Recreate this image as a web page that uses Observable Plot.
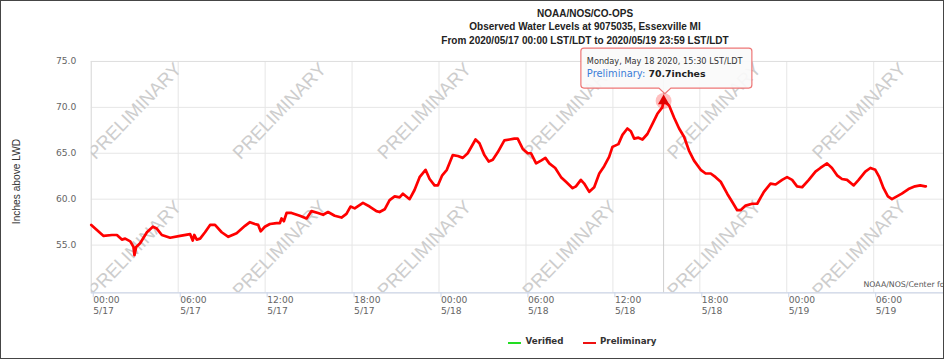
<!DOCTYPE html>
<html>
<head>
<meta charset="utf-8">
<script src="https://cdn.jsdelivr.net/npm/d3@7"></script>
<script src="https://cdn.jsdelivr.net/npm/@observablehq/plot@0.6"></script>
<style>
  html, body { margin: 0; padding: 0; background: #fff; }
  body { width: 946px; height: 361px; overflow: hidden; position: relative; font-family: "Liberation Sans", Arial, sans-serif; }
  #frame { position: absolute; left: 0; top: 0; width: 944px; height: 359px; box-sizing: border-box; border: 1.5px solid #454545; overflow: hidden; background: #fff; }
  #title { position: absolute; top: 6px; left: 384px; width: 400px; text-align: center; font-weight: bold; font-size: 10px; line-height: 13.3px; color: #222; }
  #chart { position: absolute; left: -1.5px; top: 46.5px; }
  #credit { position: absolute; left: 862.5px; top: 278.5px; font-family: "DejaVu Sans", sans-serif; font-size: 7.8px; color: #555; white-space: nowrap; }
  #legend { position: absolute; top: 334px; left: 0; width: 946px; height: 16px; font-family: "DejaVu Sans", sans-serif; font-weight: bold; font-size: 8.7px; color: #333; }
  .sw { position: absolute; top: 6.5px; width: 13px; height: 2px; }
  .lt { position: absolute; top: 1px; white-space: nowrap; }
  #overlay { position: absolute; left: -1.5px; top: -1.5px; pointer-events: none; }
</style>
</head>
<body>
<div id="frame">
  <div id="title">NOAA/NOS/CO-OPS<br>Observed Water Levels at 9075035, Essexville MI<br>From 2020/05/17 00:00 LST/LDT to 2020/05/19 23:59 LST/LDT</div>
  <div id="chart"></div>
  <div id="credit">NOAA/NOS/Center for Operational Oceanographic Products and Services</div>
  <div id="legend">
    <div class="sw" style="left:506.5px;background:#22dd22"></div><div class="lt" style="left:524.5px">Verified</div>
    <div class="sw" style="left:581.5px;background:#ee1111"></div><div class="lt" style="left:599px">Preliminary</div>
  </div>
  <svg id="overlay" width="946" height="361"></svg>
</div>
<script>
// Hours after 2020-05-17 00:00 LST/LDT
const hours = [
  0, 0.85, 1.43, 1.77, 2.11, 2.34, 2.69, 2.91, 2.98, 3.10, 3.37, 3.84, 4.25, 4.52, 4.87, 5.44,
  6.13, 6.82, 7.00, 7.11, 7.28, 7.51, 7.85, 8.20, 8.54, 9.00, 9.46, 10.03, 10.61, 10.95, 11.29, 11.52,
  11.69, 11.98, 12.33, 12.79, 13.02, 13.13, 13.29, 13.48, 13.82, 14.39, 14.86, 15.20, 15.65, 16.00,
  16.34, 16.80, 17.27, 17.61, 17.89, 18.18, 18.75, 19.21, 19.68, 19.90, 20.25, 20.59, 20.94, 21.28,
  21.51, 21.74, 21.97, 22.31, 22.66, 23.07, 23.35, 23.69, 23.92, 24.22, 24.54, 24.95, 25.30, 25.64,
  25.98, 26.52, 26.79, 27.13, 27.43, 27.71, 28.05, 28.51, 28.86, 29.20, 29.43, 29.77, 30.12, 30.35,
  30.70, 31.04, 31.34, 31.61, 32.02, 32.42, 32.76, 33.22, 33.45, 33.79, 34.02, 34.37, 34.71, 35.06,
  35.40, 35.74, 35.97, 36.38, 36.66, 37.00, 37.24, 37.47, 37.76, 38.04, 38.38, 38.73, 39.07, 39.41,
  39.50, 39.88, 40.22, 40.57, 40.91, 41.25, 41.60, 42.06, 42.40, 42.75, 43.09, 43.44, 43.89, 44.24,
  44.58, 44.81, 45.16, 45.61, 45.96, 46.42, 46.88, 47.23, 47.68, 48.02, 48.37, 48.71, 49.06, 49.52,
  49.98, 50.32, 50.78, 51.12, 51.47, 51.81, 52.16, 52.62, 52.96, 53.42, 53.77, 54.11, 54.39, 54.68,
  54.98, 55.26, 55.60, 55.94, 56.40, 56.85, 57.21, 57.55, 57.60
];
// Water level, inches above LWD (Preliminary)
const levels = [
  57.2, 56.0, 56.1, 56.1, 55.6, 55.7, 55.4, 54.8, 53.9, 54.8, 55.2, 56.4, 57.0, 56.8, 56.1, 55.8,
  56.0, 56.2, 55.5, 56.1, 55.6, 55.7, 56.4, 57.2, 57.2, 56.4, 55.9, 56.3, 57.1, 57.5, 57.3, 57.2,
  56.5, 57.0, 57.3, 57.4, 57.4, 57.9, 57.6, 58.5, 58.5, 58.2, 57.9, 58.7, 58.5, 58.3,
  58.6, 58.2, 58.0, 58.4, 59.2, 59.0, 59.6, 59.2, 58.7, 58.6, 58.9, 59.9, 60.3, 60.2,
  60.6, 60.3, 60.0, 61.0, 62.4, 63.2, 62.2, 61.5, 61.5, 62.6, 63.2, 64.8, 64.7, 64.5,
  65.0, 66.5, 66.1, 64.8, 64.1, 64.3, 65.1, 66.4, 66.5, 66.6, 66.6, 65.5, 65.0, 65.0,
  63.9, 64.2, 64.5, 63.9, 63.4, 62.4, 61.9, 61.2, 61.4, 62.1, 61.7, 60.8, 61.3, 62.8,
  63.6, 64.6, 65.7, 66.0, 67.0, 67.7, 67.4, 66.6, 66.7, 66.5, 67.1, 68.2, 69.3, 70.0,
  70.7, 70.2, 68.9, 67.7, 66.8, 65.3, 64.2, 63.2, 62.8, 62.8, 62.4, 61.9, 60.6, 59.7,
  58.8, 58.8, 59.3, 59.5, 59.5, 60.8, 61.7, 61.6, 62.1, 62.4, 62.1, 61.4, 61.3, 62.1,
  63.0, 63.4, 63.9, 63.4, 62.6, 62.2, 62.1, 61.5, 62.1, 63.0, 63.4, 63.2, 62.4, 61.2,
  60.3, 60.0, 60.3, 60.6, 61.1, 61.4, 61.5, 61.4, 61.4
];
const yTicks = [55, 60, 65, 70, 75];
const yLabel = "Inches above LWD";
const peakHour = 39.5;
const peakLevel = 70.7;
const tooltipHeader = "Monday, May 18 2020, 15:30 LST/LDT";
const tooltipSeries = "Preliminary:";
const tooltipValue = "70.7inches";

const base = Date.UTC(2020, 4, 17, 0, 0);
const toDate = h => new Date(base + h * 3600e3);
const data = hours.map((h, i) => ({t: toDate(h), v: levels[i]}));
const xStart = toDate(0), xEnd = toDate(58.85);
const xTicks = d3.utcHour.every(6).range(xStart, xEnd);
const peak = [{t: toDate(peakHour), v: peakLevel}];
const wmCols = d3.range(3, 58, 10);
const watermarks = [69.6, 54.6].flatMap(v => wmCols.map(h => ({t: toDate(h), v})));
const fmtTime = d3.utcFormat("%H:%M"), fmtDay = d3.utcFormat("%-m/%-d");

const chartTop = 48; // page y of the plot svg
const chart = Plot.plot({
  width: 946,
  height: 290,
  marginTop: 13,
  marginBottom: 45,
  marginLeft: 91,
  marginRight: 0,
  x: {type: "utc", domain: [xStart, xEnd]},
  y: {domain: [49.8, 75]},
  style: {fontFamily: "DejaVu Sans, sans-serif", fontSize: "9.2px", color: "#666", background: "transparent", overflow: "visible"},
  marks: [
    Plot.gridY(yTicks, {stroke: "#e6e6e6", strokeOpacity: 1}),
    Plot.gridX(xTicks, {stroke: "#e6e6e6", strokeOpacity: 1}),
    Plot.frame({stroke: "#dedede"}),
    Plot.text(watermarks, {x: "t", y: "v", text: () => "PRELIMINARY", rotate: -46, fontSize: 18.6,
      fontFamily: "Liberation Sans, Arial, sans-serif", fill: "#cdcdcd", clip: true}),
    Plot.ruleY([49.8], {stroke: "#ccd6eb"}),
    Plot.axisY(yTicks, {tickFormat: d => d.toFixed(1), tickSize: 0, tickPadding: 15, label: null, fill: "#666"}),
    Plot.axisX(xTicks, {tickSize: 5, tickPadding: -3, stroke: "#ccd6eb", fill: "#666",
      tickFormat: d => fmtTime(d) + "\n" + fmtDay(d), textAnchor: "start", dx: 2, lineHeight: 1.23, label: null}),
    Plot.ruleX(peak, {x: "t", stroke: "#cfcfcf"}),
    Plot.line(data, {x: "t", y: "v", stroke: "#ff0000", strokeWidth: 2.7, strokeLinejoin: "round"}),
    Plot.dot(peak, {x: "t", y: "v", r: 8, fill: "#ff0000", fillOpacity: 0.25, stroke: null}),
    Plot.dot(peak, {x: "t", y: "v", symbol: "triangle", r: 4.2, fill: "#e00000", stroke: null})
  ]
});
document.getElementById("chart").appendChild(chart);

const ov = d3.select("#overlay");
// y-axis title
ov.append("text")
  .attr("transform", "translate(17,181.5) rotate(-90)")
  .attr("text-anchor", "middle").attr("dominant-baseline", "middle")
  .attr("font-family", "Liberation Sans, Arial, sans-serif").attr("font-size", 10.2).attr("fill", "#333")
  .text(yLabel);

// Tooltip positioned from the chart scales
const sx = chart.scale("x"), sy = chart.scale("y");
const px = sx.apply(peak[0].t);
const py = sy.apply(peakLevel) + chartTop;
const L = px - 84, R = px + 87, T = py - 52.5, B = py - 12.5, r = 3;
const tip = py - 7;
ov.append("path")
  .attr("d", `M${L + r},${T} H${R - r} Q${R},${T} ${R},${T + r} V${B - r} Q${R},${B} ${R - r},${B}
    H${px + 6} L${px},${tip} L${px - 6},${B} H${L + r} Q${L},${B} ${L},${B - r} V${T + r} Q${L},${T} ${L + r},${T} Z`)
  .attr("fill", "rgba(250,250,250,0.92)")
  .attr("stroke", "#e77")
  .attr("stroke-width", 1.2);
ov.append("text")
  .attr("x", L + 6).attr("y", T + 15.5)
  .attr("font-family", "DejaVu Sans, sans-serif").attr("font-size", 8.2).attr("fill", "#333")
  .text(tooltipHeader);
const t2 = ov.append("text")
  .attr("x", L + 6).attr("y", T + 28.5)
  .attr("font-family", "DejaVu Sans, sans-serif").attr("font-size", 9.9);
t2.append("tspan").attr("fill", "#3b7dd8").text(tooltipSeries + " ");
t2.append("tspan").attr("fill", "#222").attr("font-weight", "bold").attr("font-size", 9.4).text(tooltipValue);
</script>
</body>
</html>
